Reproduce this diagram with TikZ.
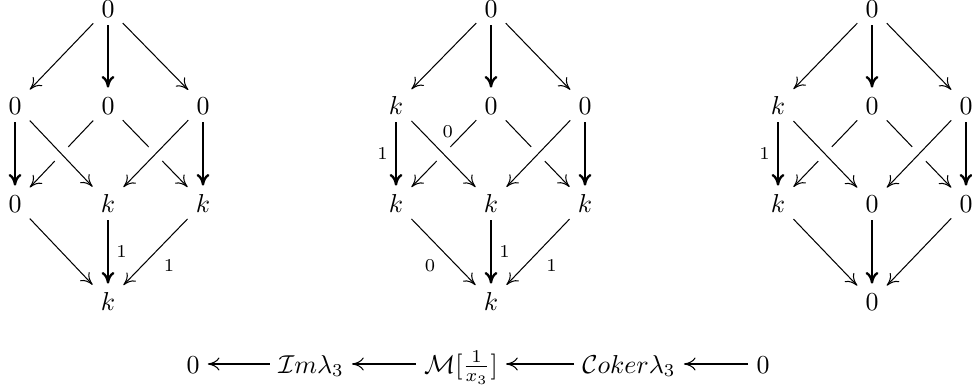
\documentclass[tikz,border=0pt]{standalone}
\usepackage{amsmath, amssymb}
\usepackage{tikz}
\usetikzlibrary{arrows.meta}

\begin{document}
\begin{tikzpicture}[
  x=0.386pt, y=-0.386pt,
  obj/.style={inner sep=3pt, text height=7pt, text depth=0pt},
  map/.style={-{To[length=4.5pt, width=5pt]}, line width=0.4pt},
  vmap/.style={map, line width=0.9pt},
  over/.style={map, preaction={draw=white, -, line width=7.5pt, shorten <=14pt, shorten >=14pt}},
  lbl/.style={font=\scriptsize, inner sep=3pt},
]
\useasboundingbox (0,0) rectangle (972,387);

% first cube
\node[obj] (a0) at (108,8)   {$0$};
\node[obj] (a1) at (15,105)  {$0$};
\node[obj] (a2) at (108,105) {$0$};
\node[obj] (a3) at (203,105) {$0$};
\node[obj] (a4) at (15,203)  {$0$};
\node[obj] (a5) at (108,203) {$k$};
\node[obj] (a6) at (203,203) {$k$};
\node[obj] (a7) at (108,301) {$k$};

% second cube
\node[obj] (b0) at (491,8)   {$0$};
\node[obj] (b1) at (396,105) {$k$};
\node[obj] (b2) at (491,105) {$0$};
\node[obj] (b3) at (585,105) {$0$};
\node[obj] (b4) at (396,203) {$k$};
\node[obj] (b5) at (491,203) {$k$};
\node[obj] (b6) at (585,203) {$k$};
\node[obj] (b7) at (491,301) {$k$};

% third cube
\node[obj] (c0) at (872,8)   {$0$};
\node[obj] (c1) at (778,105) {$k$};
\node[obj] (c2) at (872,105) {$0$};
\node[obj] (c3) at (966,105) {$0$};
\node[obj] (c4) at (778,203) {$k$};
\node[obj] (c5) at (872,203) {$0$};
\node[obj] (c6) at (966,203) {$0$};
\node[obj] (c7) at (872,301) {$0$};

\foreach \cb in {a,b,c}{
  \draw[map]  (\cb0) -- (\cb1);
  \draw[vmap] (\cb0) -- (\cb2);
  \draw[map]  (\cb0) -- (\cb3);
  \draw[map]  (\cb2) -- (\cb4);
  \draw[map]  (\cb2) -- (\cb6);
  \draw[over] (\cb1) -- (\cb5);
  \draw[over] (\cb3) -- (\cb5);
  \draw[vmap] (\cb1) -- (\cb4);
  \draw[vmap] (\cb3) -- (\cb6);
  \draw[map]  (\cb4) -- (\cb7);
  \draw[vmap] (\cb5) -- (\cb7);
  \draw[map]  (\cb6) -- (\cb7);
}

% labels
\path (a5) -- (a7) node[lbl, midway, right] (a57) {$1$};
\path (a6) -- (a7) node[lbl, midway, below right] (a67) {$1$};
\path (b1) -- (b4) node[lbl, midway, left] (b14) {$1$};
\path (b2) -- (b4) node[lbl, pos=0.31, above left, inner sep=1pt] (b24) {$0$};
\path (b4) -- (b7) node[lbl, midway, below left] (b47) {$0$};
\path (b5) -- (b7) node[lbl, midway, right] (b57) {$1$};
\path (b6) -- (b7) node[lbl, midway, below right] (b67) {$1$};
\path (c1) -- (c4) node[lbl, midway, left] (c14) {$1$};

% exact sequence
\node[obj] (s0) at (193,364) {$0$};
\node[obj] (s1) at (311,364) {$\mathcal{I}m\lambda_3$};
\node[obj] (s2) at (461,364) {$\mathcal{M}[\frac{1}{x_3}]$};
\node[obj] (s3) at (629,364) {$\mathcal{C}oker\lambda_3$};
\node[obj] (s4) at (763,364) {$0$};
\draw[map] (s1) -- (s0);
\draw[map] (s2) -- (s1);
\draw[map] (s3) -- (s2);
\draw[map] (s4) -- (s3);
\end{tikzpicture}
\end{document}
